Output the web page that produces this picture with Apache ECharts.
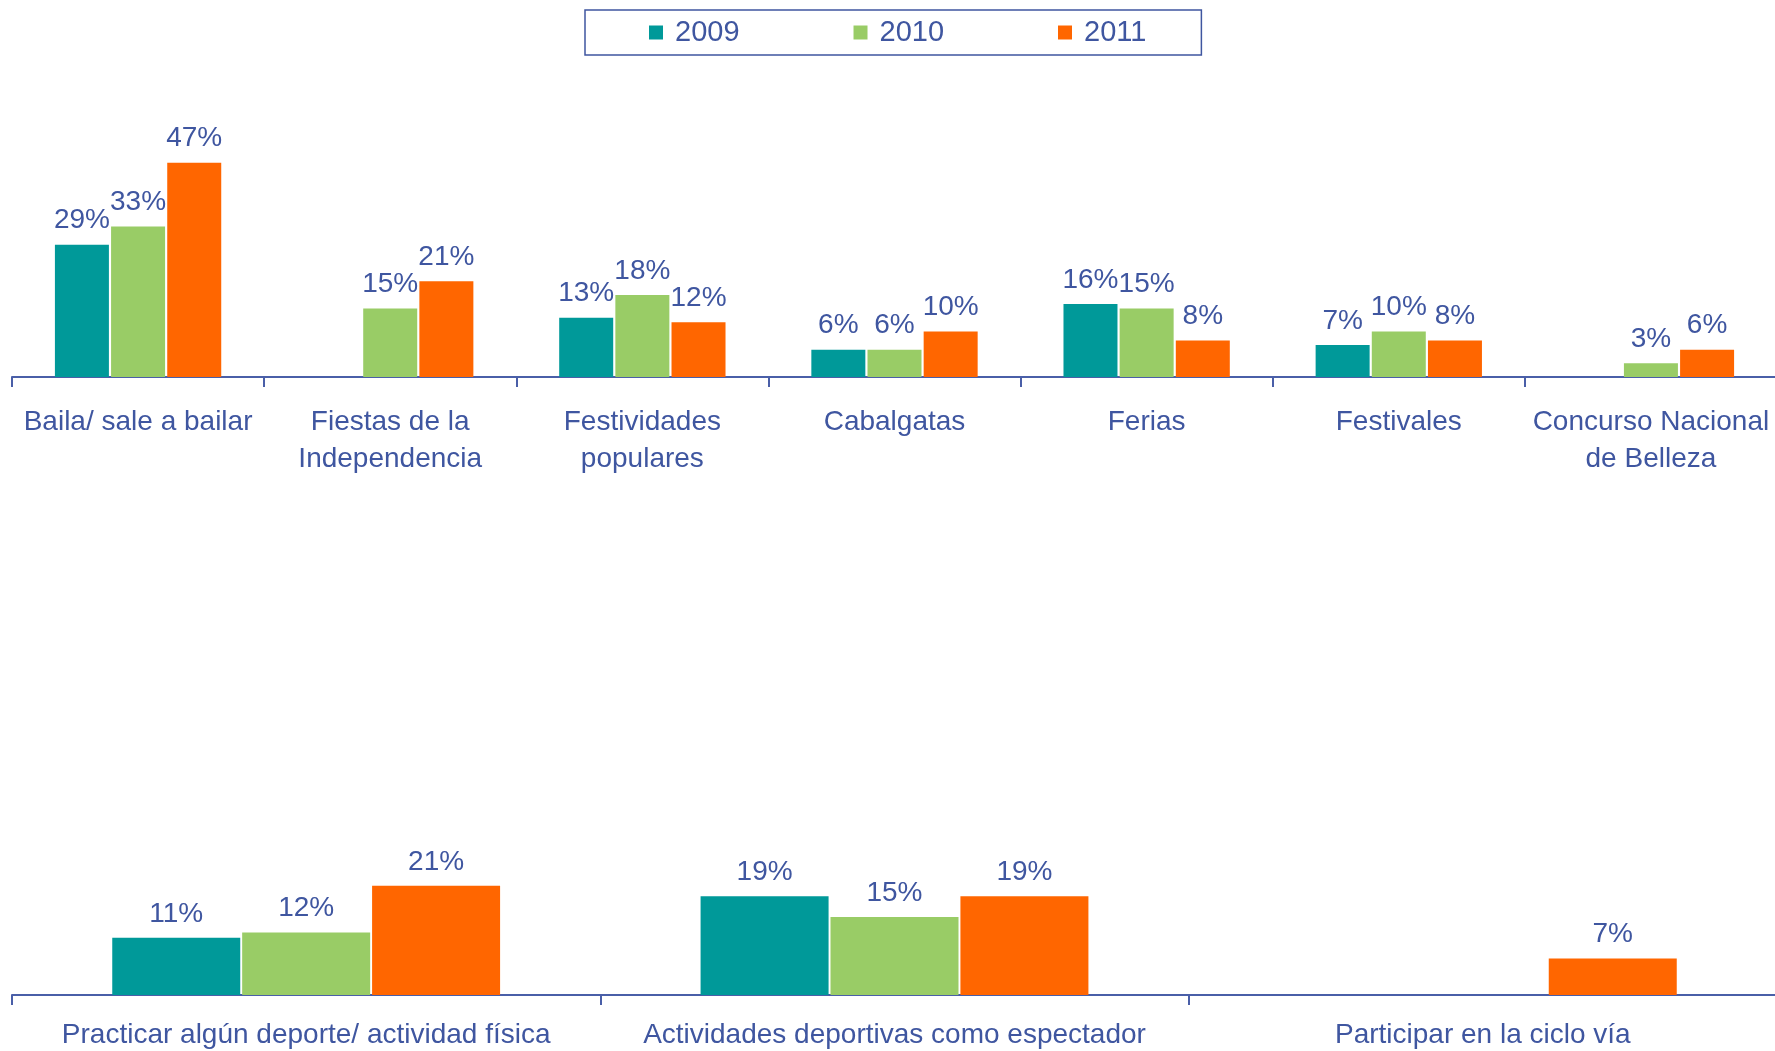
<!DOCTYPE html>
<html>
<head>
<meta charset="utf-8">
<script src="https://cdn.jsdelivr.net/npm/echarts@6/dist/echarts.min.js"></script>
<style>
html,body{margin:0;padding:0;background:#fff;}
#c{width:1775px;height:1051px;}
</style>
</head>
<body>
<div id="c"></div>
<script>
// ---- data ----
const years = ['2009', '2010', '2011'];
const topCategories = ['Baila/ sale a bailar', 'Fiestas de la\nIndependencia', 'Festividades\npopulares', 'Cabalgatas', 'Ferias', 'Festivales', 'Concurso Nacional\nde Belleza'];
const top2009 = [29, null, 13, 6, 16, 7, null];
const top2010 = [33, 15, 18, 6, 15, 10, 3];
const top2011 = [47, 21, 12, 10, 8, 8, 6];
const bottomCategories = ['Practicar algún deporte/ actividad física', 'Actividades deportivas como espectador', 'Participar en la ciclo vía'];
const bottom2009 = [11, 19, null];
const bottom2010 = [12, 15, null];
const bottom2011 = [21, 19, 7];

const colors = ['#009999', '#99CC66', '#FF6600'];
const textColor = '#3F56A0';
const font = 'Liberation Sans, Arial, sans-serif';

const chart = echarts.init(document.getElementById('c'));

function xAxis(idx, cats, margin) {
  return {
    type: 'category', gridIndex: idx, data: cats,
    axisLine: {lineStyle: {color: '#4A5FA8', width: 2}},
    axisTick: {show: true, length: 10, lineStyle: {color: '#4A5FA8', width: 2}},
    axisLabel: {interval: 0, fontSize: 28, color: textColor, fontFamily: font, lineHeight: 37, margin: margin}
  };
}
function yAxis(idx, max) {
  return {type: 'value', gridIndex: idx, min: 0, max: max, show: false, splitLine: {show: false}};
}
function series(name, data, idx, color, width, gap) {
  return {
    type: 'bar', name: name, data: data, xAxisIndex: idx, yAxisIndex: idx,
    barWidth: width, barGap: gap,
    itemStyle: {color: color},
    label: {show: true, position: 'top', distance: 10, formatter: '{c}%', fontSize: 28, color: textColor, fontFamily: font},
    emphasis: {disabled: true}
  };
}

chart.setOption({
  animation: false,
  backgroundColor: '#fff',
  color: colors,
  legend: {
    data: years, left: 585, top: 10,
    icon: 'rect', itemWidth: 14, itemHeight: 14, itemGap: 114,
    borderColor: '#3F56A0', borderWidth: 1.5,
    padding: [8, 55, 8, 64],
    textStyle: {fontSize: 29, color: textColor, fontFamily: font, padding: [0, 0, 0, 7]}
  },
  grid: [
    {left: 12, width: 1765, top: 149, height: 228, containLabel: false, outerBoundsMode: 'none'},
    {left: 12, width: 1765, top: 865, height: 130, containLabel: false, outerBoundsMode: 'none'}
  ],
  xAxis: [xAxis(0, topCategories, 27), xAxis(1, bottomCategories, 22)],
  yAxis: [yAxis(0, 50), yAxis(1, 25)],
  series: [
    series('2009', top2009, 0, colors[0], 54, '4%'),
    series('2010', top2010, 0, colors[1], 54, '4%'),
    series('2011', top2011, 0, colors[2], 54, '4%'),
    series('2009', bottom2009, 1, colors[0], 128, '1.5%'),
    series('2010', bottom2010, 1, colors[1], 128, '1.5%'),
    series('2011', bottom2011, 1, colors[2], 128, '1.5%')
  ]
});
</script>
</body>
</html>
